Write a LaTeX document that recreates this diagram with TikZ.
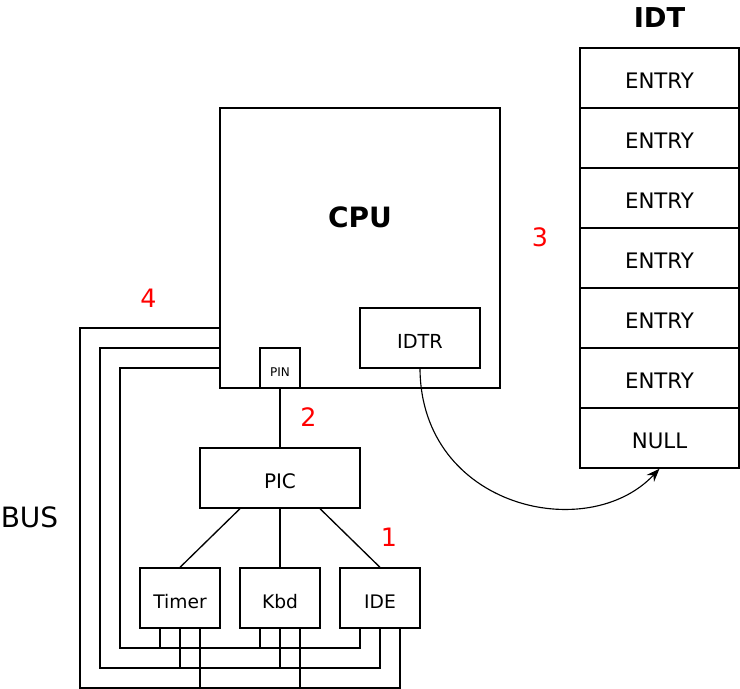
\documentclass[tikz,border=0pt]{standalone}
\usepackage{fontspec}
\setmainfont{DejaVu Sans}
\usetikzlibrary{arrows.meta}
\definecolor{numred}{RGB}{255,0,0}
\begin{document}
\begin{tikzpicture}[x=0.75pt,y=-0.75pt,line width=1pt,
  box/.style={draw, inner sep=0pt, font=\fontsize{14.5}{16}\selectfont, text height=15.1pt, text depth=0pt},
  entry/.style={box, minimum width=119.25pt, minimum height=45pt, font=\fontsize{16}{18}\selectfont, text height=15.1pt},
  dev/.style={box, minimum width=60pt, minimum height=45pt, font=\fontsize{14}{16}\selectfont, text height=15.8pt},
  title/.style={inner sep=0pt, font=\fontsize{21}{24}\selectfont\bfseries},
  num/.style={inner sep=0pt, text=numred, font=\fontsize{19}{22}\selectfont}]
\useasboundingbox (0,0) rectangle (740,689);

% CPU
\node[draw, minimum width=210pt, minimum height=210pt] (cpu) at (360,248) {};
\node[title] (cputxt) at (360,217.5) {CPU};
\node[box, minimum width=90pt, minimum height=45pt] (idtr) at (420,338) {IDTR};
\node[draw, inner sep=0pt, minimum width=30pt, minimum height=30pt, font=\fontsize{9}{10}\selectfont, text height=12pt, text depth=0pt] (pin) at (280,368) {PIN};

% PIC
\node[box, minimum width=120pt, minimum height=45pt, font=\fontsize{15}{17}\selectfont, text height=15.4pt] (pic) at (280,478) {PIC};
\draw (pin.south) -- (pic.north);

% devices
\node[dev] (timer) at (180,598) {Timer};
\node[dev] (kbd) at (280,598) {Kbd};
\node[dev] (ide) at (380,598) {IDE};
\draw ([shift={(-40,0)}]pic.south) -- (timer.north);
\draw (pic.south) -- (kbd.north);
\draw ([shift={(40,0)}]pic.south) -- (ide.north);

% IDT
\node[title, font=\fontsize{20.5}{24}\selectfont\bfseries] (idttxt) at (659.5,17.5) {IDT};
\foreach \i/\t in {0/ENTRY,1/ENTRY,2/ENTRY,3/ENTRY,4/ENTRY,5/ENTRY,6/NULL}
  \node[entry] (e\i) at (659.5,78+60*\i) {\t};

% bus
\coordinate (b1) at (220,328);
\coordinate (b2) at (220,348);
\coordinate (b3) at (220,368);
\draw (b1) -| (80,688) -| ([shift={(20,0)}]ide.south);
\draw (b2) -| (100,668) -| (ide.south);
\draw (b3) -| (120,648) -| ([shift={(-20,0)}]ide.south);
\foreach \d in {timer,kbd}{
  \draw ([shift={(-20,0)}]\d.south) -- ++(0,20);
  \draw (\d.south) -- ++(0,40);
  \draw ([shift={(20,0)}]\d.south) -- ++(0,60);
}

% arrow
\draw[line width=0.85pt, -{Stealth[length=10pt,width=7.5pt]}] (idtr.south) .. controls (421,508) and (588,545) .. (e6.south);

% labels
\node[inner sep=0pt, font=\fontsize{21}{24}\selectfont, text height=15.3pt, text depth=0pt] (bus) at (29.5,517.5) {BUS};
\node[num] (n1) at (389,537.3) {1};
\node[num] (n2) at (308.5,417) {2};
\node[num] (n3) at (540,237.3) {3};
\node[num] (n4) at (148.5,298) {4};
\end{tikzpicture}
\end{document}
